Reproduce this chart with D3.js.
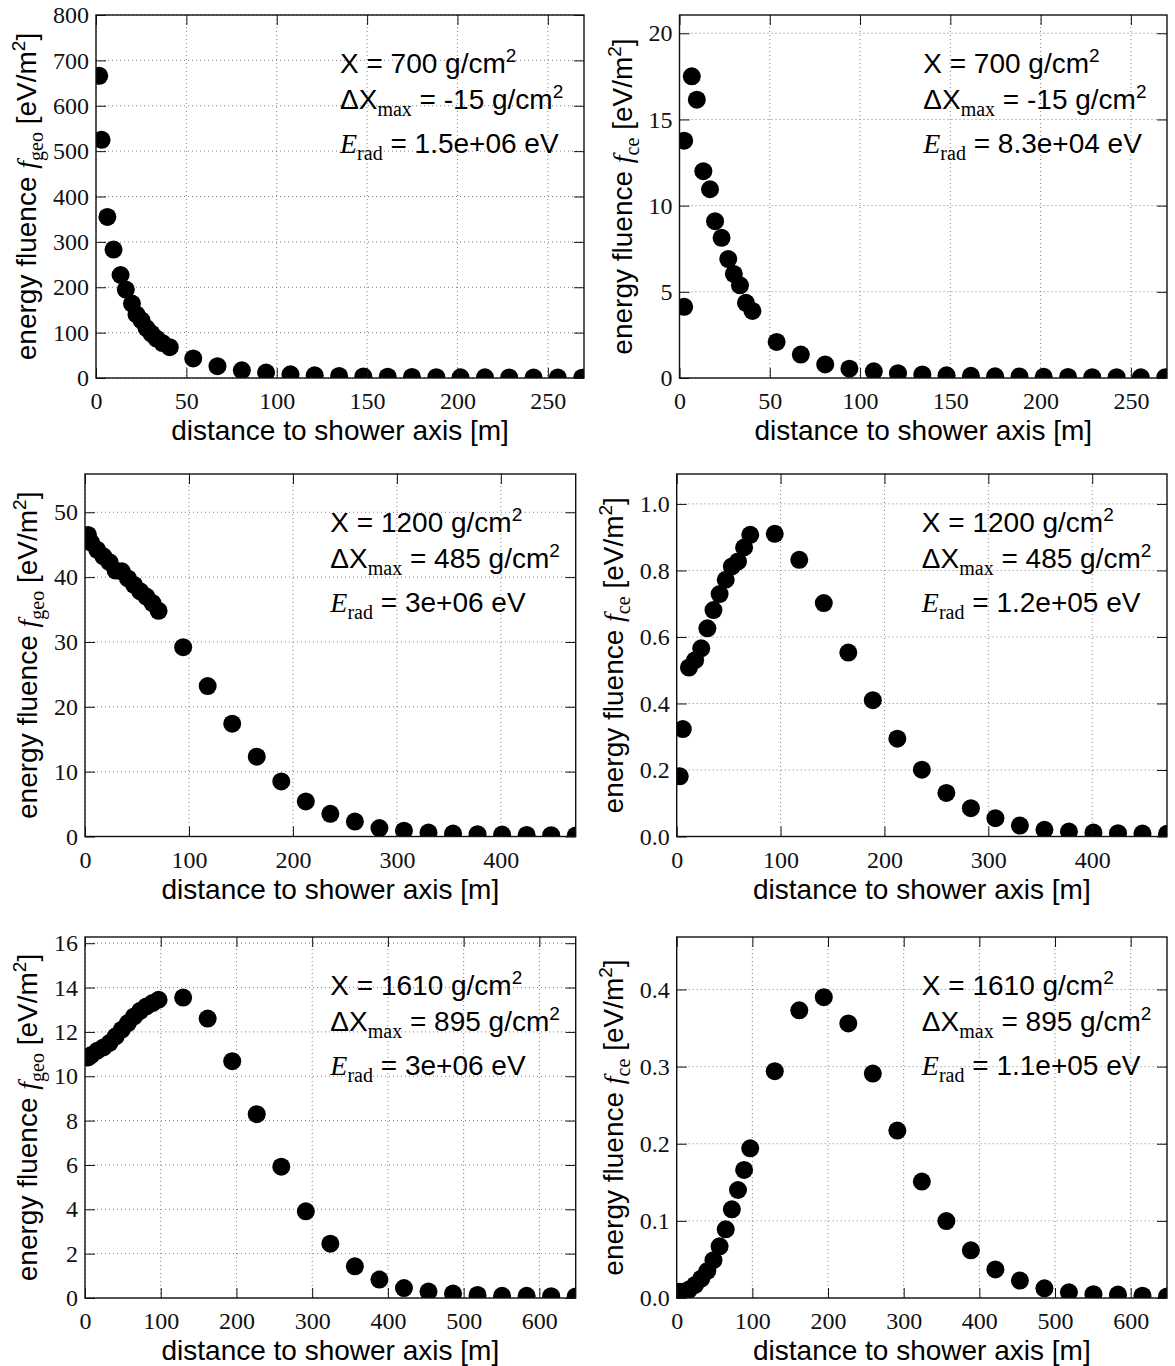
<!DOCTYPE html>
<html>
<head>
<meta charset="utf-8">
<script src="https://cdn.jsdelivr.net/npm/d3@7"></script>
<style>
  body { margin: 0; background: #fff; }
  svg { display: block; }
  text { white-space: pre; }
</style>
</head>
<body>
<svg id="chart" width="1175" height="1366"></svg>
<script>
// distances to shower axis [m] and fluences [eV/m^2]
const geo700Dist = [1.8, 3.1, 6.3, 9.7, 13.6, 16.5, 19.9, 22.4, 25.2, 27.9, 30.7, 33.5, 36.8, 40.8,
  53.8, 67.2, 80.7, 94.1, 107.6, 121, 134.5, 147.9, 161.4, 174.8, 188.3, 201.7, 215.2, 228.6, 242.1, 255.5, 269];
const geo700 = [666, 525, 355, 283, 227, 195, 164, 140, 127, 110, 98, 87, 77, 68,
  43, 26, 17, 12, 8, 6, 4.5, 3.5, 2.8, 2.3, 1.9, 1.6, 1.4, 1.2, 1.0, 0.9, 0.8];

const ce700Dist = [2.6, 2.6, 6.8, 9.6, 13.2, 16.9, 19.7, 23.3, 27, 30.1, 33.5, 36.8, 40.4,
  53.8, 67.2, 80.7, 94.1, 107.6, 121, 134.5, 147.9, 161.4, 174.8, 188.3, 201.7, 215.2, 228.6, 242.1, 255.5, 269];
const ce700 = [13.77, 4.13, 17.5, 16.15, 12.0, 10.95, 9.1, 8.13, 6.9, 6.04, 5.38, 4.36, 3.89,
  2.09, 1.36, 0.79, 0.54, 0.39, 0.28, 0.21, 0.16, 0.13, 0.1, 0.09, 0.07, 0.06, 0.05, 0.05, 0.04, 0.04];

const dist1200 = [2.9, 5.9, 11.8, 17.7, 23.6, 29.5, 35.4, 41.3, 47.2, 53.1, 59, 64.9, 70.8,
  94.4, 118, 141.6, 165.2, 188.8, 212.4, 236, 259.6, 283.2, 306.8, 330.4, 354, 377.6, 401.2, 424.8, 448.4, 472];
const geo1200 = [46.5, 45.3, 44.2, 43.2, 42.3, 41.0, 40.9, 39.8, 38.8, 37.8, 37.0, 36.0, 34.8,
  29.2, 23.2, 17.4, 12.3, 8.5, 5.4, 3.5, 2.3, 1.3, 0.9, 0.6, 0.45, 0.35, 0.3, 0.25, 0.2, 0.15];
const ce1200 = [0.181, 0.323, 0.508, 0.53, 0.566, 0.626, 0.681, 0.729, 0.772, 0.812, 0.827, 0.869, 0.907,
  0.910, 0.832, 0.702, 0.553, 0.410, 0.294, 0.201, 0.131, 0.085, 0.055, 0.033, 0.020, 0.015, 0.012, 0.010, 0.009, 0.008];

const dist1610 = [4.05, 8.1, 16.2, 24.3, 32.4, 40.5, 48.6, 56.7, 64.8, 72.9, 81, 89.1, 97.2,
  129.6, 162, 194.4, 226.8, 259.2, 291.6, 324, 356.4, 388.8, 421.2, 453.6, 486, 518.4, 550.8, 583.2, 615.6, 648];
const geo1610 = [10.85, 10.95, 11.15, 11.3, 11.5, 11.8, 12.1, 12.4, 12.7, 12.95, 13.15, 13.3, 13.45,
  13.55, 12.6, 10.68, 8.29, 5.92, 3.91, 2.45, 1.43, 0.83, 0.45, 0.29, 0.2, 0.14, 0.1, 0.1, 0.08, 0.07];
const ce1610 = [0.008, 0.008, 0.011, 0.017, 0.025, 0.035, 0.049, 0.067, 0.089, 0.115, 0.140, 0.166, 0.194,
  0.294, 0.373, 0.390, 0.356, 0.291, 0.217, 0.151, 0.0997, 0.0618, 0.037, 0.0226, 0.0126, 0.0074, 0.005, 0.0044, 0.003, 0.002];

// annotation values
const depths = ["700", "1200", "1610"];
const dXmax = ["-15", "485", "895"];
const eRad = ["1.5e+06", "8.3e+04", "3e+06", "1.2e+05", "3e+06", "1.1e+05"];

// tick values
const xTicks700 = [0, 50, 100, 150, 200, 250];
const xTicks1200 = [0, 100, 200, 300, 400];
const xTicks1610 = [0, 100, 200, 300, 400, 500, 600];
const yTicksGeo700 = [0, 100, 200, 300, 400, 500, 600, 700, 800];
const yTicksCe700 = [0, 5, 10, 15, 20];
const yTicksGeo1200 = [0, 10, 20, 30, 40, 50];
const yTicksCe1200 = [0, 0.2, 0.4, 0.6, 0.8, 1.0];
const yTicksGeo1610 = [0, 2, 4, 6, 8, 10, 12, 14, 16];
const yTicksCe1610 = [0, 0.1, 0.2, 0.3, 0.4];

const SANS = "'Liberation Sans', Arial, sans-serif";
const SERIF = "'Liberation Serif', 'Times New Roman', serif";

const rows = [
  { top: 15, bottom: 378, lefts: [96, 679.5], rights: [584, 1167] },
  { top: 474, bottom: 836.5, lefts: [85, 676.7], rights: [575.7, 1167] },
  { top: 937, bottom: 1298, lefts: [85, 676.7], rights: [575.7, 1167] }
];

const panels = [
  { row: 0, col: 0, xs: geo700Dist, ys: geo700, xMax: 270, yMax: 800, xTicks: xTicks700, yTicks: yTicksGeo700, fmt: d3.format("d"), sub: "geo" },
  { row: 0, col: 1, xs: ce700Dist, ys: ce700, xMax: 270, yMax: 21.06, xTicks: xTicks700, yTicks: yTicksCe700, fmt: d3.format("d"), sub: "ce" },
  { row: 1, col: 0, xs: dist1200, ys: geo1200, xMax: 472, yMax: 55.9, xTicks: xTicks1200, yTicks: yTicksGeo1200, fmt: d3.format("d"), sub: "geo" },
  { row: 1, col: 1, xs: dist1200, ys: ce1200, xMax: 472, yMax: 1.09, xTicks: xTicks1200, yTicks: yTicksCe1200, fmt: d3.format(".1f"), sub: "ce" },
  { row: 2, col: 0, xs: dist1610, ys: geo1610, xMax: 648, yMax: 16.28, xTicks: xTicks1610, yTicks: yTicksGeo1610, fmt: d3.format("d"), sub: "geo" },
  { row: 2, col: 1, xs: dist1610, ys: ce1610, xMax: 648, yMax: 0.468, xTicks: xTicks1610, yTicks: yTicksCe1610, fmt: d3.format(".1f"), sub: "ce" }
];

const svg = d3.select("#chart");

panels.forEach((p, i) => {
  const r = rows[p.row];
  const left = r.lefts[p.col], right = r.rights[p.col];
  const top = r.top, bottom = r.bottom;

  const x = d3.scaleLinear().domain([0, p.xMax]).range([left, right]);
  const y = d3.scaleLinear().domain([0, p.yMax]).range([bottom, top]);

  const g = svg.append("g");

  // dotted grid
  g.append("g").selectAll("line").data(p.xTicks).join("line")
    .attr("x1", d => x(d)).attr("x2", d => x(d))
    .attr("y1", top).attr("y2", bottom)
    .attr("stroke", "#808080").attr("stroke-width", 1).attr("stroke-dasharray", "1,3");
  g.append("g").selectAll("line").data(p.yTicks).join("line")
    .attr("x1", left).attr("x2", right)
    .attr("y1", d => y(d)).attr("y2", d => y(d))
    .attr("stroke", "#808080").attr("stroke-width", 1).attr("stroke-dasharray", "1,3");

  // markers, clipped to the axes box
  const clipId = "clip" + i;
  svg.append("clipPath").attr("id", clipId).append("rect")
    .attr("x", left).attr("y", top).attr("width", right - left).attr("height", bottom - top);
  g.append("g").attr("clip-path", `url(#${clipId})`)
    .selectAll("circle").data(p.xs.map((d, k) => [d, p.ys[k]])).join("circle")
    .attr("cx", d => x(d[0])).attr("cy", d => y(d[1])).attr("r", 9).attr("fill", "#000");

  // axes with inward ticks on all sides
  const axB = g.append("g").attr("transform", `translate(0,${bottom})`)
    .call(d3.axisBottom(x).tickValues(p.xTicks).tickSizeInner(-10).tickSizeOuter(0).tickPadding(14).tickFormat(d3.format("d")));
  const axT = g.append("g").attr("transform", `translate(0,${top})`)
    .call(d3.axisTop(x).tickValues(p.xTicks).tickSizeInner(-10).tickSizeOuter(0).tickFormat(""));
  const axL = g.append("g").attr("transform", `translate(${left},0)`)
    .call(d3.axisLeft(y).tickValues(p.yTicks).tickSizeInner(-10).tickSizeOuter(0).tickPadding(7).tickFormat(p.fmt));
  const axR = g.append("g").attr("transform", `translate(${right},0)`)
    .call(d3.axisRight(y).tickValues(p.yTicks).tickSizeInner(-10).tickSizeOuter(0).tickFormat(""));
  [axB, axT, axL, axR].forEach(a => {
    a.attr("font-family", SERIF).attr("font-size", 24);
    a.select(".domain").remove();
    a.selectAll(".tick line").attr("stroke", "#111").attr("stroke-width", 1);
    a.selectAll("text").style("font-family", SERIF).style("font-size", "24px").attr("fill", "#111");
  });

  // frame
  g.append("rect").attr("x", left).attr("y", top).attr("width", right - left).attr("height", bottom - top)
    .attr("fill", "none").attr("stroke", "#111").attr("stroke-width", 1.4);

  // x label
  g.append("text").attr("x", (left + right) / 2).attr("y", bottom + 62)
    .attr("text-anchor", "middle").attr("font-family", SANS).attr("font-size", 28).attr("fill", "#000")
    .text("distance to shower axis [m]");

  // y label
  let maxW = 0;
  axL.selectAll("text").each(function () { maxW = Math.max(maxW, this.getComputedTextLength()); });
  const yl = g.append("text")
    .attr("transform", `translate(${left - 7 - maxW - 17},${(top + bottom) / 2}) rotate(-90)`)
    .attr("text-anchor", "middle").attr("font-family", SANS).attr("font-size", 28).attr("fill", "#000");
  yl.append("tspan").text("energy fluence ");
  yl.append("tspan").attr("font-family", SERIF).attr("font-style", "italic").text("f");
  yl.append("tspan").attr("font-family", SERIF).attr("font-size", 20).attr("dy", 7).text(p.sub);
  yl.append("tspan").attr("dy", -7).text(" [eV/m");
  yl.append("tspan").attr("font-size", 19).attr("dy", -11).text("2");
  yl.append("tspan").attr("dy", 11).text("]");

  // annotation block
  const ax0 = left + 0.5 * (right - left);
  const ann = g.append("g").attr("font-family", SANS).attr("font-size", 28).attr("fill", "#000");
  const l1 = ann.append("text").attr("x", ax0).attr("y", top + 58);
  l1.append("tspan").text(`X = ${depths[p.row]} g/cm`);
  l1.append("tspan").attr("font-size", 19).attr("dy", -11).text("2");

  const l2 = ann.append("text").attr("x", ax0).attr("y", top + 94);
  l2.append("tspan").text("ΔX");
  l2.append("tspan").attr("font-family", SERIF).attr("font-size", 20).attr("dy", 7).text("max");
  l2.append("tspan").attr("dy", -7).text(` = ${dXmax[p.row]} g/cm`);
  l2.append("tspan").attr("font-size", 19).attr("dy", -11).text("2");

  const l3 = ann.append("text").attr("x", ax0).attr("y", top + 137.5);
  l3.append("tspan").attr("font-family", SERIF).attr("font-style", "italic").text("E");
  l3.append("tspan").attr("font-family", SERIF).attr("font-size", 20).attr("dy", 7).text("rad");
  l3.append("tspan").attr("dy", -7).text(` = ${eRad[i]} eV`);
});
</script>
</body>
</html>
